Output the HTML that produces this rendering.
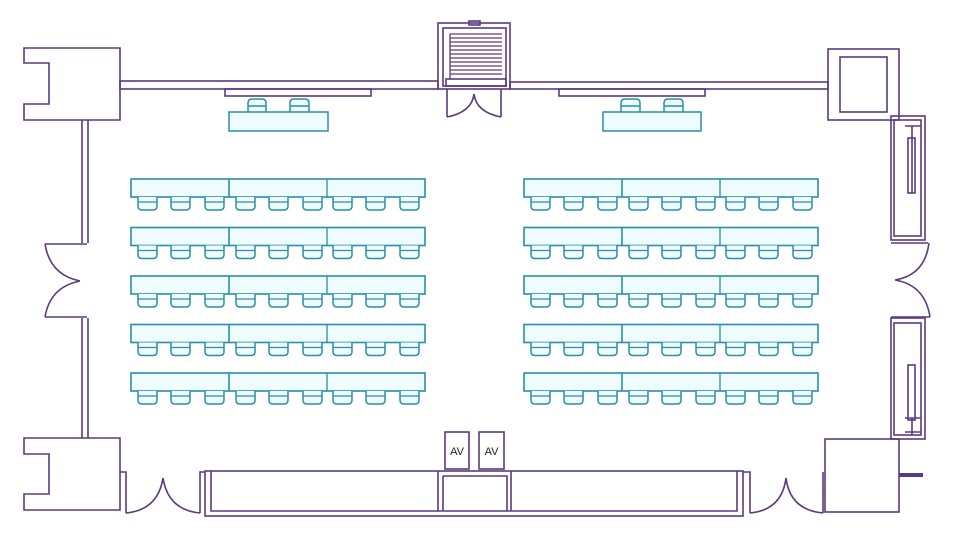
<!DOCTYPE html>
<html><head><meta charset="utf-8"><style>html,body{margin:0;padding:0;background:#fff}svg{display:block}</style></head>
<body>
<svg width="959" height="550" viewBox="0 0 959 550" xmlns="http://www.w3.org/2000/svg" xmlns:xlink="http://www.w3.org/1999/xlink">
<defs>
<g id="ch"><path d="M0,0 V9 Q0,13 4,13 H15 Q19,13 19,9 V0" fill="#effcfd" stroke="#2a8ea6" stroke-width="1.5"/><line x1="0" y1="5" x2="19" y2="5" stroke="#2a8ea6" stroke-width="1.3"/></g>
<g id="row">
<rect x="0" y="0" width="294" height="18" fill="#effcfd" stroke="#2a8ea6" stroke-width="1.6"/>
<line x1="98" y1="0" x2="98" y2="18" stroke="#2a8ea6" stroke-width="1.6"/>
<line x1="196" y1="0" x2="196" y2="18" stroke="#2a8ea6" stroke-width="1.3"/>
<use xlink:href="#ch" x="7" y="18"/><use xlink:href="#ch" x="40" y="18"/><use xlink:href="#ch" x="74" y="18"/>
<use xlink:href="#ch" x="105" y="18"/><use xlink:href="#ch" x="138" y="18"/><use xlink:href="#ch" x="172" y="18"/>
<use xlink:href="#ch" x="202" y="18"/><use xlink:href="#ch" x="235" y="18"/><use xlink:href="#ch" x="269" y="18"/>
</g>
<g id="block">
<use xlink:href="#row" y="0"/><use xlink:href="#row" y="48.5"/><use xlink:href="#row" y="97"/><use xlink:href="#row" y="145.5"/><use xlink:href="#row" y="194"/>
</g>
</defs>
<g fill="none" stroke="#5b3a7e" stroke-width="1.6">
<!-- top left box -->
<path d="M24,48 H120 V120 H24 V104 H49 V63 H24 Z"/>
<!-- top walls -->
<rect x="120" y="81" width="318" height="8"/>
<rect x="225" y="89" width="146" height="7"/>
<rect x="510" y="82" width="318" height="7"/>
<rect x="559" y="89" width="146" height="7"/>
<!-- stair -->
<rect x="438" y="23" width="72" height="66"/>
<rect x="443" y="28" width="63" height="58"/>
<rect x="469" y="21" width="11" height="4"/>
<rect x="446" y="79" width="60" height="7"/>
<g stroke-width="1.3">
<line x1="450" y1="34" x2="502" y2="34"/><line x1="450" y1="38" x2="502" y2="38"/><line x1="450" y1="42" x2="502" y2="42"/><line x1="450" y1="46" x2="502" y2="46"/><line x1="450" y1="50" x2="502" y2="50"/><line x1="450" y1="54" x2="502" y2="54"/><line x1="450" y1="58" x2="502" y2="58"/><line x1="450" y1="62" x2="502" y2="62"/><line x1="450" y1="66" x2="502" y2="66"/><line x1="450" y1="70" x2="502" y2="70"/><line x1="450" y1="74" x2="502" y2="74"/><line x1="450" y1="34" x2="450" y2="79"/>
</g>
<path d="M447,89 V117 M501,89 V117 M447,117 Q472,112 474,94 M501,117 Q476,112 474,94"/>
<!-- top right box -->
<rect x="828" y="49" width="71" height="71"/>
<rect x="840" y="57" width="47" height="55"/>
<!-- left wall -->
<path d="M82,120 V243 M88,120 V243 M82,318 V438 M88,318 V438"/>
<path d="M45,244 H87 M45,317 H87 M45,244 Q50,275 80,281 M45,317 Q50,287 80,281"/>
<!-- bottom left box -->
<path d="M24,438 H120 V510 H24 V494 H49 V454 H24 Z"/>
<path d="M120,472 H126 V513 M200,513 V472 H205 M126,513 Q158,510 163,478 M200,513 Q168,510 163,478"/>
<!-- bottom bar -->
<rect x="205" y="471" width="538" height="45"/>
<path d="M211,471 V511 H737 V471"/>
<path d="M438,471 V511 M443,476 V511 M443,476 H507 V511 M511,471 V511"/>
<rect x="445" y="432" width="24" height="37" fill="#fff"/>
<rect x="479" y="432" width="25" height="37" fill="#fff"/>
<!-- bottom right door -->
<path d="M743,472 H750 V513 M823,513 V472 M750,513 Q782,510 786,478 M823,513 Q790,510 786,478"/>
<rect x="825" y="439" width="74" height="73"/>
<rect x="899" y="473" width="24" height="4" fill="#5b3a7e" stroke="none"/>
<!-- right closets -->
<rect x="891" y="116" width="34" height="124"/>
<rect x="894" y="120" width="27" height="116"/>
<rect x="908" y="138" width="7" height="55"/>
<path d="M905,126 H921 M912,126 V193"/>
<path d="M891,243 H928 M891,317 H930 M929,243 Q925,275 895,280 M930,317 Q925,285 895,280"/>
<rect x="891" y="318" width="34" height="121"/>
<rect x="894" y="323" width="27" height="112"/>
<rect x="908" y="365" width="7" height="55"/>
<path d="M905,418 H921 M905,432 H921 M912,418 V435"/>
</g>
<g font-family="Liberation Sans, sans-serif" font-size="11" fill="#222" text-anchor="middle">
<text x="457" y="455">AV</text><text x="491.5" y="455">AV</text>
</g>
<!-- head tables -->
<g fill="#effcfd" stroke="#2a8ea6" stroke-width="1.5">
<path d="M248,112 V103 Q248,99 252,99 H262 Q266,99 266,103 V112 M248,106 H266"/>
<path d="M290,112 V103 Q290,99 294,99 H305 Q309,99 309,103 V112 M290,106 H309"/>
<rect x="229" y="112" width="99" height="19"/>
<path d="M621,112 V103 Q621,99 625,99 H636 Q640,99 640,103 V112 M621,106 H640"/>
<path d="M664,112 V103 Q664,99 668,99 H679 Q683,99 683,103 V112 M664,106 H683"/>
<rect x="603" y="112" width="98" height="19"/>
</g>
<use xlink:href="#block" x="131" y="179"/>
<use xlink:href="#block" x="524" y="179"/>
</svg>
</body></html>
